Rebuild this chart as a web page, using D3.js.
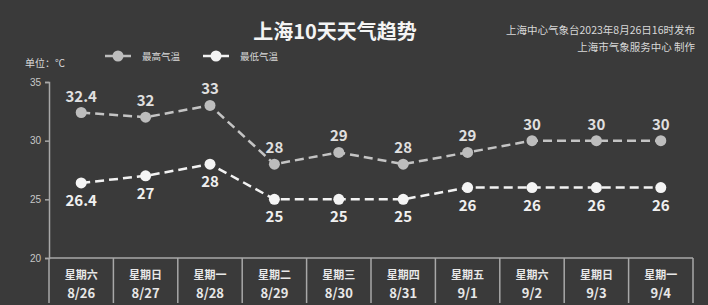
<!DOCTYPE html>
<html>
<head>
<meta charset="utf-8">
<script src="https://cdn.jsdelivr.net/npm/d3@7"></script>
<style>
  body { margin: 0; background: #3a3a3a; }
  svg { display: block; font-family: "Noto Sans CJK SC", "Noto Sans", sans-serif; }
</style>
</head>
<body>
<div id="chart"></div>
<script>
var dates = ["8/26", "8/27", "8/28", "8/29", "8/30", "8/31", "9/1", "9/2", "9/3", "9/4"];
var weekdays = ["星期六", "星期日", "星期一", "星期二", "星期三", "星期四", "星期五", "星期六", "星期日", "星期一"];
var highTemps = [32.4, 32, 33, 28, 29, 28, 29, 30, 30, 30];
var lowTemps = [26.4, 27, 28, 25, 25, 25, 26, 26, 26, 26];
var yTicks = [20, 25, 30, 35];

var W = 708, H = 305;
var margin = { left: 49, right: 15, top: 82, bottom: 47 };

var svg = d3.select("#chart").append("svg")
    .attr("width", W)
    .attr("height", H);

svg.append("rect").attr("width", W).attr("height", H).attr("fill", "#3a3a3a");

var x = d3.scaleBand()
    .domain(dates)
    .range([margin.left, W - margin.right]);

var y = d3.scaleLinear()
    .domain([20, 35])
    .range([H - margin.bottom, margin.top]);

// title
svg.append("text")
    .attr("x", 335).attr("y", 39)
    .attr("text-anchor", "middle")
    .attr("fill", "#f4f4f4")
    .attr("font-size", 20).attr("font-weight", "bold")
    .text("上海10天天气趋势");

svg.append("text")
    .attr("x", 695).attr("y", 34)
    .attr("text-anchor", "end")
    .attr("fill", "#d8d8d8").attr("font-size", 10.5)
    .text("上海中心气象台2023年8月26日16时发布");
svg.append("text")
    .attr("x", 695).attr("y", 51)
    .attr("text-anchor", "end")
    .attr("fill", "#d8d8d8").attr("font-size", 10.5)
    .text("上海市气象服务中心 制作");

svg.append("text")
    .attr("x", 25).attr("y", 67)
    .attr("fill", "#d8d8d8").attr("font-size", 10)
    .text("单位：℃");

// legend
var legend = [
    { name: "最高气温", color: "#bdbdbd", x: 105 },
    { name: "最低气温", color: "#f2f2f2", x: 203 }
];
legend.forEach(function(d) {
    svg.append("line")
        .attr("x1", d.x).attr("x2", d.x + 26)
        .attr("y1", 56).attr("y2", 56)
        .attr("stroke", d.color).attr("stroke-width", 2.5);
    svg.append("circle")
        .attr("cx", d.x + 13).attr("cy", 56).attr("r", 5.5)
        .attr("fill", d.color);
    svg.append("text")
        .attr("x", d.x + 37).attr("y", 59.5)
        .attr("fill", "#d8d8d8").attr("font-size", 9.5)
        .text(d.name);
});

// y axis
var yAxis = svg.append("g")
    .attr("transform", "translate(" + margin.left + ",0)")
    .call(d3.axisLeft(y).tickValues(yTicks).tickSize(4).tickPadding(4));
yAxis.selectAll("path, line").attr("stroke", "#a8a8a8").attr("stroke-width", 1.5);
yAxis.selectAll("text").attr("fill", "#c8c8c8").attr("font-size", 10);

// x axis as a table of bands
var baseY = y(20);
svg.append("line")
    .attr("x1", margin.left).attr("x2", W - margin.right)
    .attr("y1", baseY).attr("y2", baseY)
    .attr("stroke", "#a8a8a8").attr("stroke-width", 1.5);

var bounds = dates.map(function(d) { return x(d); }).concat([x(dates[dates.length - 1]) + x.bandwidth()]);
svg.selectAll(".sep")
    .data(bounds)
    .enter().append("line")
    .attr("x1", function(d) { return d; }).attr("x2", function(d) { return d; })
    .attr("y1", baseY).attr("y2", H - 2)
    .attr("stroke", "#a8a8a8").attr("stroke-width", 1.5);

svg.selectAll(".wd")
    .data(dates)
    .enter().append("text")
    .attr("x", function(d) { return x(d) + x.bandwidth() / 2; })
    .attr("y", baseY + 21)
    .attr("text-anchor", "middle")
    .attr("fill", "#e8e8e8").attr("font-size", 11).attr("font-weight", "bold")
    .text(function(d, i) { return weekdays[i]; });

svg.selectAll(".dt")
    .data(dates)
    .enter().append("text")
    .attr("x", function(d) { return x(d) + x.bandwidth() / 2; })
    .attr("y", baseY + 40)
    .attr("text-anchor", "middle")
    .attr("fill", "#e8e8e8").attr("font-size", 13).attr("font-weight", "bold")
    .text(function(d) { return d; });

// series
var series = [
    { values: highTemps, color: "#c4c4c4", dot: "#bdbdbd", dy: -11, label: "#e0e0e0" },
    { values: lowTemps, color: "#f2f2f2", dot: "#f4f4f4", dy: 23, label: "#f0f0f0" }
];

var line = d3.line()
    .x(function(d, i) { return x(dates[i]) + x.bandwidth() / 2; })
    .y(function(d) { return y(d); });

series.forEach(function(s) {
    svg.append("path")
        .datum(s.values)
        .attr("fill", "none")
        .attr("stroke", s.color)
        .attr("stroke-width", 2.5)
        .attr("stroke-dasharray", "9,5")
        .attr("d", line);

    svg.selectAll(null)
        .data(s.values)
        .enter().append("circle")
        .attr("cx", function(d, i) { return x(dates[i]) + x.bandwidth() / 2; })
        .attr("cy", function(d) { return y(d); })
        .attr("r", 5.5)
        .attr("fill", s.dot);

    svg.selectAll(null)
        .data(s.values)
        .enter().append("text")
        .attr("x", function(d, i) { return x(dates[i]) + x.bandwidth() / 2; })
        .attr("y", function(d) { return y(d) + s.dy; })
        .attr("text-anchor", "middle")
        .attr("fill", s.label)
        .attr("font-size", 15).attr("font-weight", "bold")
        .text(function(d) { return d; });
});
</script>
</body>
</html>
